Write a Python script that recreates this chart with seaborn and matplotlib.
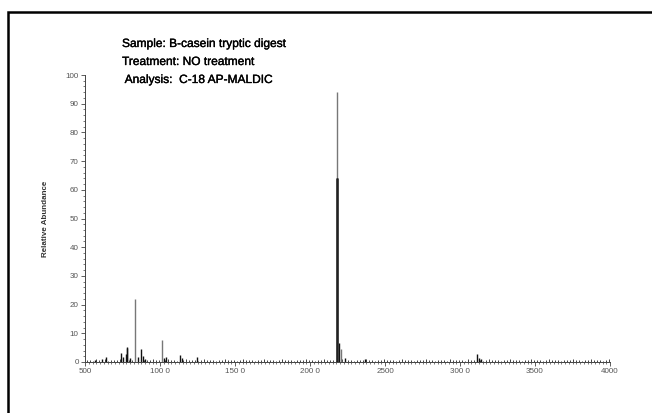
import matplotlib
matplotlib.use("Agg")
import matplotlib.pyplot as plt
from matplotlib.patches import Rectangle
from matplotlib.ticker import MultipleLocator, FixedLocator
import matplotlib.patheffects as pe
import seaborn as sns
import pandas as pd

# ---- data ----
title_lines = ["Sample: B-casein tryptic digest",
               "Treatment: NO treatment",
               " Analysis:  C-18 AP-MALDIC"]
y_label = "Relative Abundance"

# main peaks (m/z, relative abundance)
peak_mz_gray = [833, 1011, 2181, 2207]
peak_int_gray = [22.0, 7.5, 94.0, 4.5]
peak_mz_black = [567, 611, 643, 741, 753, 771, 778, 783, 800, 855, 871, 885, 900,
                 1027, 1040, 1133, 1144, 1249, 2177, 2196, 2230, 2365, 3112, 3124, 3140]
peak_int_black = [0.8, 1.2, 1.9, 3.3, 1.8, 2.8, 4.8, 5.1, 1.5, 1.8, 4.6, 2.0, 1.0,
                  1.4, 1.8, 2.6, 1.4, 1.9, 64.0, 6.5, 1.3, 1.2, 2.8, 1.5, 1.0]

# baseline noise sticks
noise_mz = list(range(510, 4000, 20))
noise_int = [0.6, 0.8, 0.5, 0.9, 0.7, 0.6, 1.0, 0.5, 0.8, 0.7, 0.6, 0.9, 0.5, 0.7, 0.8,
             0.6, 0.9, 0.7, 0.5, 0.8, 0.6, 0.7, 1.0, 0.6, 0.8, 0.5, 0.7, 0.9, 0.6, 0.8,
             0.5, 0.7, 0.6, 0.9, 0.8, 0.6, 0.7, 0.5, 0.8, 0.9, 0.6, 0.7, 0.8, 0.5, 0.7,
             0.6, 0.9, 0.7, 0.6, 0.8, 0.5, 0.7, 0.9, 0.6, 0.8, 0.7, 0.5, 0.8, 0.6, 0.9,
             0.7, 0.6, 0.8, 0.5, 0.7, 0.9, 0.6, 0.8, 0.7, 0.5, 0.8, 0.6, 0.7, 0.9, 0.6,
             0.8, 0.5, 0.7, 0.6, 0.9, 0.7, 0.6, 0.8, 0.5, 0.7, 0.9, 0.6, 0.8, 0.7, 0.5,
             0.8, 0.6, 0.7, 0.9, 0.6, 0.8, 0.5, 0.7, 0.6, 0.9, 0.7, 0.6, 0.8, 0.5, 0.7,
             0.9, 0.6, 0.8, 0.7, 0.5, 0.8, 0.6, 0.7, 0.9, 0.6, 0.8, 0.5, 0.7, 0.6, 0.8,
             0.5, 0.9, 0.7, 0.6, 0.8, 0.7, 0.5, 0.9, 0.6, 0.8, 0.7, 0.6, 0.5, 0.8, 0.9,
             0.6, 0.7, 0.8, 0.5, 0.7, 0.6, 0.9, 0.8, 0.6, 0.7, 0.5, 0.8, 0.6, 0.9, 0.7,
             0.6, 0.8, 0.5, 0.7, 0.9, 0.6, 0.8, 0.7, 0.5, 0.8, 0.6, 0.7, 0.9, 0.6, 0.8,
             0.5, 0.7, 0.6, 0.9, 0.7, 0.6, 0.8, 0.5, 0.7, 0.9]
noise_int = noise_int[:len(noise_mz)]

x_ticks = [500, 1000, 1500, 2000, 2500, 3000, 3500, 4000]
x_tick_labels = ["500", "100 0", "150 0", "200 0", "2500", "300 0", "3500", "4000"]
y_ticks = list(range(0, 101, 10))

# ---- style ----
sns.set_style("ticks")
plt.rcParams["font.family"] = ["Liberation Sans", "DejaVu Sans"]

fig = plt.figure(figsize=(6.52, 4.13), dpi=100)
W, H = 652, 413
ax = fig.add_axes([85 / W, (H - 362) / H, (610 - 85) / W, (362 - 75) / H])

noise_df = pd.DataFrame({"mz": noise_mz, "int": noise_int})
black_df = pd.DataFrame({"mz": peak_mz_black, "int": peak_int_black})
gray_df = pd.DataFrame({"mz": peak_mz_gray, "int": peak_int_gray})

ax.vlines(noise_df["mz"], 0, noise_df["int"], color="#222222", lw=0.6)
ax.vlines(gray_df["mz"], 0, gray_df["int"], color="#777777", lw=1.0)
ax.vlines(black_df["mz"], 0, black_df["int"], color="#111111", lw=1.0)
main = black_df[black_df["int"] > 50]
ax.vlines(main["mz"], 0, main["int"], color="#222222", lw=1.8)

ax.set_xlim(500, 4000)
ax.set_ylim(0, 100)
ax.xaxis.set_major_locator(FixedLocator(x_ticks))
ax.set_xticklabels(x_tick_labels)
ax.xaxis.set_minor_locator(MultipleLocator(25))
ax.set_yticks(y_ticks)
ax.yaxis.set_minor_locator(MultipleLocator(2))
ax.tick_params(axis="both", which="major", labelsize=5.8, labelcolor="#555555",
               color="#444444", length=3, width=0.6, pad=1.5)
ax.tick_params(axis="both", which="minor", color="#444444", length=1.5, width=0.5)
ax.set_ylabel(y_label, fontsize=5.8, fontweight="bold", color="#333333")
ax.yaxis.set_label_coords(-(85 - 49) / (610 - 85), 0.5)
sns.despine(ax=ax)
for s in ("left", "bottom"):
    ax.spines[s].set_linewidth(0.7)
    ax.spines[s].set_color("#444444")
ax.set_facecolor("none")

# header text
for line, yp in zip(title_lines, [44, 62, 80]):
    fig.text(122 / W, (H - yp) / H, line, fontsize=8.6, ha="left", va="center", color="#000000",
             path_effects=[pe.withStroke(linewidth=0.25, foreground="black")])

# outer frame
fig.patches.append(Rectangle((8 / W, -0.2), 1.2, (H - 12) / H + 0.2, transform=fig.transFigure,
                             fill=False, edgecolor="black", lw=1.8))

fig.savefig("out.png", dpi=100)
